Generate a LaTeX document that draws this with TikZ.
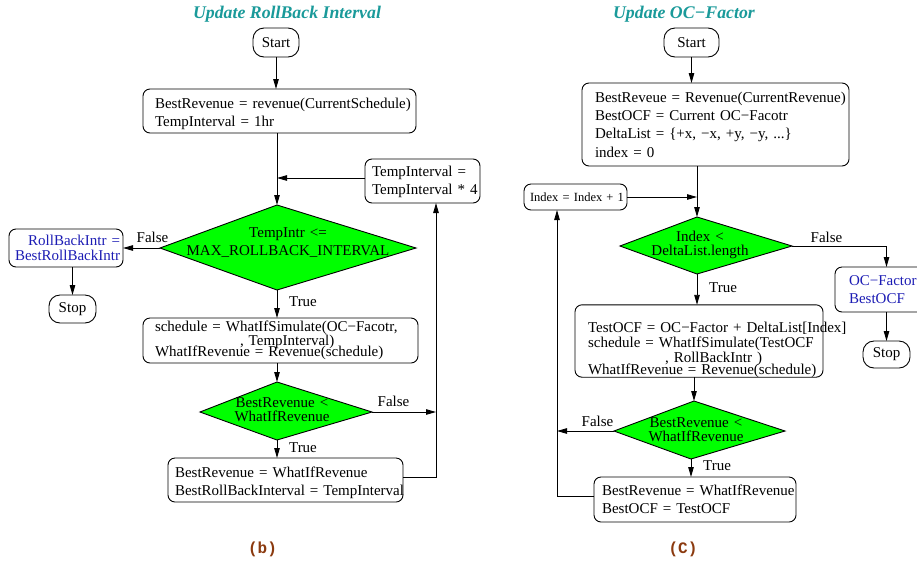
\documentclass[tikz,border=0pt]{standalone}
\usepackage{fontspec}
\setmainfont{Liberation Serif}
\newfontfamily\monofnt{Liberation Mono}
\usetikzlibrary{arrows.meta}
\definecolor{ttlteal}{HTML}{1A9A9A}
\definecolor{capbrown}{HTML}{8B3A0F}
\definecolor{txtblue}{HTML}{1C1CB4}
\definecolor{decgreen}{HTML}{00FF00}
\begin{document}
\begin{tikzpicture}[x=1pt,y=-1pt,
  every node/.style={inner sep=0pt, outer sep=0pt},
  fnt/.style={font=\fontsize{15}{18}\selectfont},
  box/.style={fnt, draw, line width=.9pt, rounded corners=7pt, align=left, inner ysep=0pt},
  term/.style={fnt, draw, line width=.9pt, rounded corners=11pt, align=center},
  dia/.style={draw, fill=decgreen, line width=.9pt, line join=miter},
  dtext/.style={fnt, align=center, text width=250pt},
  lab/.style={fnt, anchor=base},
  ttl/.style={font=\fontsize{17.8}{20}\selectfont\bfseries\itshape, text=ttlteal, anchor=base},
  figcap/.style={font=\monofnt\fontsize{16}{18}\selectfont\bfseries, text=capbrown},
  arr/.style={line width=.9pt, -{Triangle[length=10pt,width=5.5pt]}}
]
\useasboundingbox (0,0) rectangle (917,563);
\clip (0,0) rectangle (917,563);

% ---------------- left chart ----------------
\node[ttl] (t1) at (287,18) {Update RollBack Interval};
\node[term, minimum width=46pt, minimum height=29pt] (s1) at (276,42.5) {Start};
\node[box, minimum width=273pt, minimum height=44pt, inner xsep=12pt, text width=249pt] (b1) at (279.5,111)
  {\mbox{\rule{0pt}{16.4pt}BestRevenue = revenue(CurrentSchedule)}\\\mbox{TempInterval = 1hr}};
\node[box, minimum width=115pt, minimum height=44pt, inner xsep=7pt, text width=101pt] (tmp) at (422.5,181)
  {\mbox{\rule{0pt}{13pt}TempInterval =}\\\mbox{TempInterval * 4}};
\coordinate (d1t) at (277,205);
\coordinate (d1r) at (416,248);
\coordinate (d1b) at (277,290);
\coordinate (d1l) at (160,248);
\draw[dia] (d1t) -- (d1r) -- (d1b) -- (d1l) -- cycle;
\node[dtext] (d1) at (288,243) {TempIntr <=\\MAX\_ROLLBACK\_INTERVAL};
\node[box, align=right, text=txtblue, minimum width=114pt, minimum height=38pt, inner xsep=3pt, text width=108pt] (rb) at (66,248)
  {\mbox{RollBackIntr =}\\[-3pt]\mbox{BestRollBackIntr}};
\node[term, minimum width=47pt, minimum height=28pt] (st1) at (72.5,309) {Stop};
\node[box, minimum width=275pt, minimum height=45pt, inner xsep=12pt, text width=251pt] (b2) at (280.5,340.5)
  {\mbox{schedule = WhatIfSimulate(OC−Facotr,}\\[-4pt]\mbox{\hspace*{85pt}, TempInterval)}\\[-7pt]\mbox{WhatIfRevenue = Revenue(schedule)}};
\coordinate (d2t) at (277,382);
\coordinate (d2r) at (372,412);
\coordinate (d2b) at (277,440);
\coordinate (d2l) at (200,412);
\draw[dia] (d2t) -- (d2r) -- (d2b) -- (d2l) -- cycle;
\node[dtext] (d2) at (282,410) {BestRevenue <\\[-4pt]WhatIfRevenue};
\node[box, minimum width=235pt, minimum height=44pt, inner xsep=7pt, text width=221pt] (b3) at (285.5,480)
  {\mbox{\rule{0pt}{16.4pt}BestRevenue = WhatIfRevenue}\\\mbox{BestRollBackInterval = TempInterval}};
\coordinate (j1) at (436,412);
\coordinate (tw) at ([yshift=3pt]tmp.west);

\draw[arr] (s1.south) -- (s1.south |- b1.north);
\draw[arr] (d1t |- b1.south) -- (d1t);
\draw[arr] (tw) -- (tw -| d1t);
\draw[arr] (d1l) -- (rb.east);
\draw[arr] (st1.north |- rb.south) -- (st1.north);
\draw[arr] (d1b) -- (d1b |- b2.north);
\draw[arr] (d2t |- b2.south) -- (d2t);
\draw[arr] (d2r) -- (j1);
\draw[arr] ([yshift=3pt]b3.east) -| (tmp.south -| j1);
\draw[arr] (d2b) -- (d2b |- b3.north);
\node[lab] (f1) at (152.5,242) {False};
\node[lab] (r1) at (303,306) {True};
\node[lab] (f2) at (393.5,406) {False};
\node[lab] (r2) at (303,452) {True};
\node[figcap] (c1) at (262.5,549) {(b)};

% ---------------- right chart ----------------
\node[ttl] (t2) at (684,18) {Update OC−Factor};
\node[term, minimum width=55pt, minimum height=29pt] (s2) at (691.5,42.5) {Start};
\node[box, font=\fontsize{15}{18.4}\selectfont, minimum width=267pt, minimum height=83pt, inner xsep=13pt, text width=241pt] (b4) at (715.5,124.5)
  {\mbox{BestReveue = Revenue(CurrentRevenue)}\\\mbox{BestOCF = Current OC−Facotr}\\\mbox{DeltaList = \{+x, −x, +y, −y, ...\}}\\\mbox{index = 0}};
\node[box, font=\fontsize{12.5}{15}\selectfont, minimum width=103pt, minimum height=26pt, inner xsep=6pt, text width=91pt] (idx) at (575.5,197)
  {\mbox{Index = Index + 1}};
\coordinate (d3t) at (697,217);
\coordinate (d3r) at (792,246);
\coordinate (d3b) at (697,274);
\coordinate (d3l) at (620,246);
\draw[dia] (d3t) -- (d3r) -- (d3b) -- (d3l) -- cycle;
\node[dtext] (d3) at (700,245) {Index <\\[-4pt]DeltaList.length};
\node[box, text=txtblue, minimum width=105pt, minimum height=45pt, inner xsep=14pt, text width=77pt] (oc) at (887.5,289.5)
  {\mbox{OC−Factor}\\\mbox{BestOCF}};
\node[term, minimum width=47pt, minimum height=27pt] (st2) at (886.5,354.5) {Stop};
\node[box, minimum width=248pt, minimum height=72pt, inner xsep=13pt, text width=222pt] (b5) at (699,341)
  {\mbox{\rule{0pt}{27.2pt}TestOCF = OC−Factor + DeltaList[Index]}\\[-3pt]\mbox{schedule = WhatIfSimulate(TestOCF}\\[-3pt]\mbox{\hspace*{77pt}, RollBackIntr )}\\[-6pt]\mbox{WhatIfRevenue = Revenue(schedule)}};
\coordinate (d4t) at (694,401);
\coordinate (d4r) at (785,431);
\coordinate (d4b) at (691,459);
\coordinate (d4l) at (614,431);
\draw[dia] (d4t) -- (d4r) -- (d4b) -- (d4l) -- cycle;
\node[dtext] (d4) at (696,430) {BestRevenue <\\[-4pt]WhatIfRevenue};
\node[box, minimum width=202pt, minimum height=45pt, inner xsep=8pt, text width=186pt] (b6) at (695,499.5)
  {\mbox{BestRevenue = WhatIfRevenue}\\\mbox{BestOCF = TestOCF}};
\coordinate (j2) at (557,431);

\draw[arr] (s2.south) -- (s2.south |- b4.north);
\draw[arr] (d3t |- b4.south) -- (d3t);
\draw[arr] (idx.east) -- (idx.east -| d3t);
\draw[arr] (d3r) -| (st2.north |- oc.north);
\draw[arr] (st2.north |- oc.south) -- (st2.north);
\draw[arr] (d3b) -- (d3b |- b5.north);
\draw[arr] (d4t |- b5.south) -- (d4t);
\draw[arr] (d4l) -- (j2);
\draw[arr] ([yshift=3.5pt]b6.west) -| (idx.south -| j2);
\draw[arr] (d4b) -- (d4b |- b6.north);
\node[lab] (f3) at (826.5,242) {False};
\node[lab] (r3) at (723,292) {True};
\node[lab] (f4) at (597.5,426) {False};
\node[lab] (r4) at (717,470) {True};
\node[figcap] (c2) at (683,549) {(C)};
\end{tikzpicture}
\end{document}
